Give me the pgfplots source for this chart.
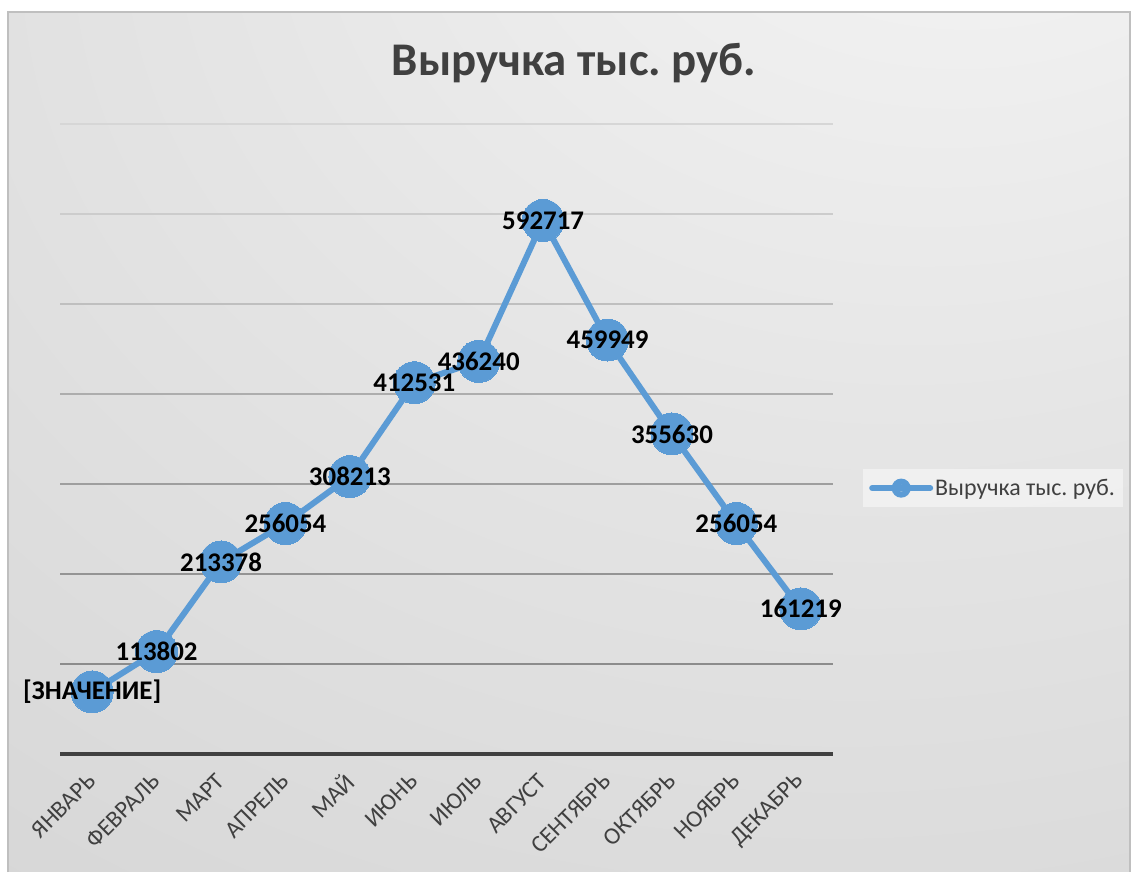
\documentclass[border=0pt]{standalone}
\usepackage{fontspec}
\setmainfont{Carlito}
\frenchspacing
\usepackage{pgfplots}
\pgfplotsset{compat=1.18}
\usepackage{pgfplotstable}
\definecolor{ser}{HTML}{5B9BD5}
\definecolor{txt}{HTML}{404040}
\pgfdeclareradialshading{bgshade}{\pgfpoint{20bp}{42bp}}{color(0bp)=(white!97!black); color(30bp)=(white!90!black); color(60bp)=(white!84!black); color(115bp)=(white!77!black)}
\pgfplotstableread{
x y lab
0 69000 {[ЗНАЧЕНИЕ]}
1 113802 113802
2 213378 213378
3 256054 256054
4 308213 308213
5 412531 412531
6 436240 436240
7 592717 592717
8 459949 459949
9 355630 355630
10 256054 256054
11 161219 161219
}\data
\begin{document}
\begin{tikzpicture}
\fill[white] (0bp,0bp) rectangle (1131bp,872bp);
\shade[shading=bgshade] (8bp,0bp) rectangle (1130bp,860bp);
\draw[black!25, line width=1.5bp] (8bp,0bp) -- (8bp,860bp) -- (1130bp,860bp) -- (1130bp,0bp);
\node[font=\fontsize{47}{52}\selectfont\bfseries, text=txt] at (574bp,809bp) {Выручка тыс. руб.};
\begin{axis}[
  at={(60bp,118bp)}, anchor=south west,
  scale only axis, width=773bp, height=630bp,
  xmin=-0.5, xmax=11.5, ymin=0, ymax=700000,
  axis x line*=bottom, axis y line*=left,
  y axis line style={draw=none},
  x axis line style={draw=txt, line width=3.5bp, -},
  xtick=data, major tick length=0pt,
  xticklabels={ЯНВАРЬ,ФЕВРАЛЬ,МАРТ,АПРЕЛЬ,МАЙ,ИЮНЬ,ИЮЛЬ,АВГУСТ,СЕНТЯБРЬ,ОКТЯБРЬ,НОЯБРЬ,ДЕКАБРЬ},
  xticklabel style={rotate=45, anchor=east, font=\fontsize{24}{27}\selectfont, text=txt, xshift=3bp},
  xticklabel shift=23bp,
  ytick=\empty, scaled y ticks=false,
  clip=false,
  legend style={at={(1.0388,0.422)}, anchor=west, fill=white, fill opacity=0.45, text opacity=1, draw=none,
    font=\fontsize{24}{27}\selectfont, text=txt, inner xsep=6bp, inner ysep=8bp},
  legend cell align=left,
  legend image code/.code={\draw[ser, line width=6bp, line cap=round] (0bp,0bp) -- (58bp,0bp); \fill[ser] (29bp,0bp) circle (6.5bp);},
]
\draw[black!16, line width=1.2bp] (axis cs:-0.5,700000) -- (axis cs:11.5,700000);
\draw[black!20, line width=1.2bp] (axis cs:-0.5,600000) -- (axis cs:11.5,600000);
\draw[black!25, line width=1.2bp] (axis cs:-0.5,500000) -- (axis cs:11.5,500000);
\draw[black!32, line width=1.2bp] (axis cs:-0.5,400000) -- (axis cs:11.5,400000);
\draw[black!38, line width=1.2bp] (axis cs:-0.5,300000) -- (axis cs:11.5,300000);
\draw[black!42, line width=1.2bp] (axis cs:-0.5,200000) -- (axis cs:11.5,200000);
\draw[black!45, line width=1.2bp] (axis cs:-0.5,100000) -- (axis cs:11.5,100000);
\addplot[ser, line width=6bp, mark=*, mark size=21bp, mark options={ser, line width=0pt},
  point meta=explicit symbolic,
  nodes near coords, nodes near coords align={center},
  every node near coord/.append style={font=\fontsize{27}{30}\selectfont\bfseries, text=black, anchor=center}]
  table[x=x, y=y, meta=lab] {\data};
\addlegendentry{Выручка тыс. руб.}
\end{axis}
\end{tikzpicture}
\end{document}
